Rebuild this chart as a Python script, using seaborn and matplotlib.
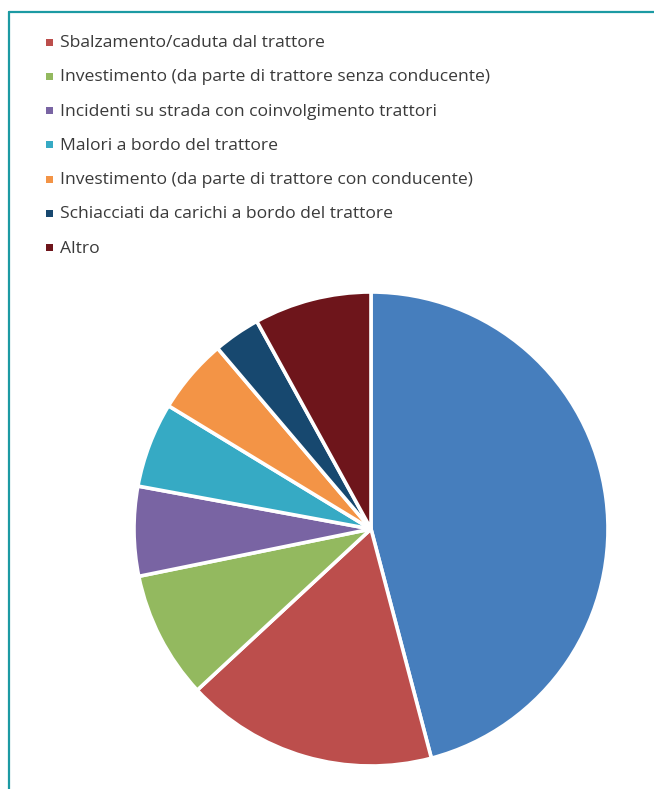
import matplotlib
matplotlib.use("Agg")
import matplotlib.pyplot as plt
from matplotlib.patches import Rectangle
from matplotlib.lines import Line2D
import seaborn as sns

sns.set_theme(style="white")
plt.rcParams['font.family'] = ['Open Sans', 'DejaVu Sans']

# Data (percent shares), in drawing order (clockwise from 12 o'clock)
categories = [
    "Ribaltamento del trattore",
    "Sbalzamento/caduta dal trattore",
    "Investimento (da parte di trattore senza conducente)",
    "Incidenti su strada con coinvolgimento trattori",
    "Malori a bordo del trattore",
    "Investimento (da parte di trattore con conducente)",
    "Schiacciati da carichi a bordo del trattore",
    "Altro",
]
values = [45.9, 17.2, 8.7, 6.1, 5.8, 5.1, 3.2, 8.0]
colors = ["#467EBD", "#BC4E4C", "#93B95F", "#7964A3", "#36AAC4", "#F39446", "#17486F", "#6E151B"]
legend_categories = categories[1:]
legend_colors = colors[1:]

W, H = 654, 789
fig = plt.figure(figsize=(W / 100, H / 100), dpi=100)
fig.patch.set_facecolor("white")

# Pie axes
cx, cy, r = 371, 529, 237
ax = fig.add_axes([(cx - r) / W, (H - cy - r) / H, 2 * r / W, 2 * r / H])
ax.pie(values, colors=colors, startangle=90, counterclock=False, radius=1.0,
       wedgeprops=dict(edgecolor="white", linewidth=2.6))
ax.set_xlim(-1, 1)
ax.set_ylim(-1, 1)
ax.set_aspect("equal")
ax.axis("off")

# Legend (manual)
y0, dy = 42, 34.3
for i, (lab, col) in enumerate(zip(legend_categories, legend_colors)):
    y = y0 + i * dy
    fig.patches.append(Rectangle(((46) / W, 1 - (y + 3.5) / H), 7 / W, 7 / H,
                                 transform=fig.transFigure, facecolor=col,
                                 edgecolor="none"))
    fig.text(60 / W, 1 - (y + 1) / H, lab, fontsize=12.6, color="#3A3A3A",
             ha="left", va="center")

# Frame lines (teal)
frame_col = "#1C9AA3"
fig.add_artist(Line2D([8.5 / W, 1.0], [1 - 12 / H, 1 - 12 / H], transform=fig.transFigure,
                      color=frame_col, linewidth=1.6))
fig.add_artist(Line2D([9 / W, 9 / W], [1 - 12 / H, 0], transform=fig.transFigure,
                      color=frame_col, linewidth=1.6))

fig.savefig("out.png", dpi=100, facecolor="white")
